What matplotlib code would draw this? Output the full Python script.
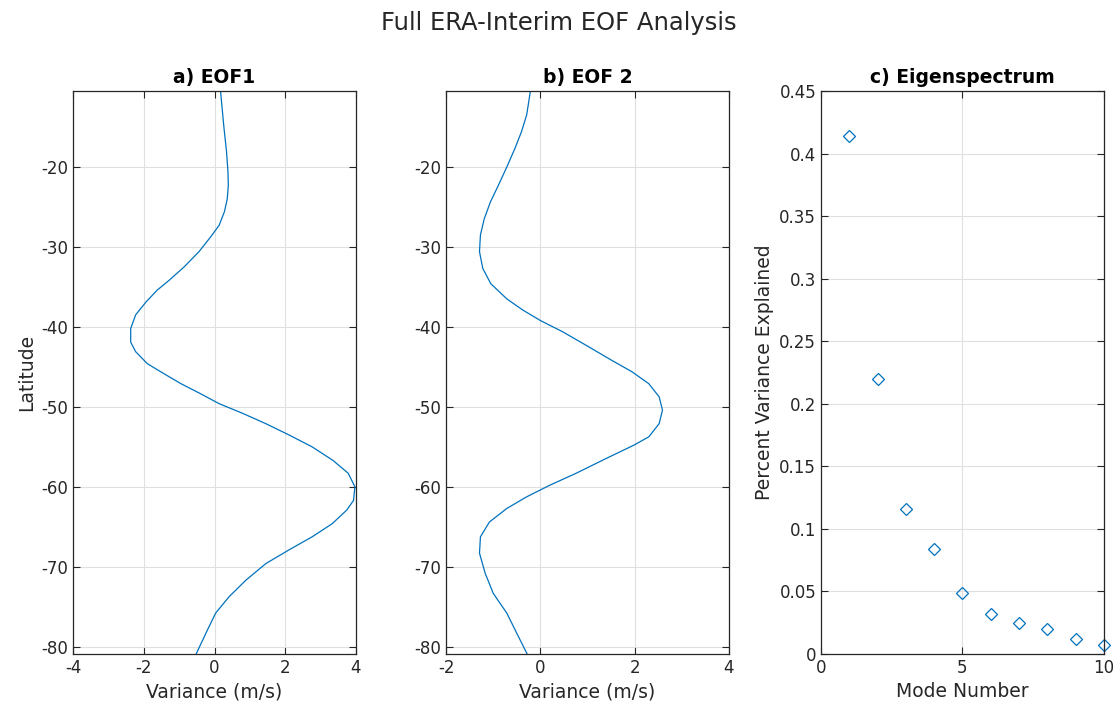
import numpy as np
import matplotlib.pyplot as plt

# EOF 1 profile (latitude, value)
eof1_lat = [-10.5, -14.8, -18.1, -20.6, -22.3, -24.0, -25.6, -27.3, -28.75, -30.6,
            -32.5, -34.2, -35.4, -36.9, -38.5, -40.2, -41.9, -43.1, -44.6, -45.8,
            -47.1, -48.3, -49.6, -50.8, -52.1, -53.5, -55.0, -56.7, -58.3, -60.0,
            -61.7, -62.9, -64.6, -66.25, -67.9, -69.6, -71.7, -73.75, -75.8, -77.9,
            -80.9]
eof1_val = [0.17, 0.26, 0.34, 0.38, 0.39, 0.36, 0.28, 0.13, -0.11, -0.44,
            -0.86, -1.29, -1.62, -1.94, -2.23, -2.37, -2.37, -2.23, -1.90, -1.45,
            -0.95, -0.42, 0.13, 0.79, 1.45, 2.10, 2.76, 3.35, 3.78, 3.97,
            3.93, 3.74, 3.33, 2.76, 2.10, 1.45, 0.88, 0.41, 0.03, -0.20,
            -0.52]

# EOF 2 profile
eof2_lat = [-10.5, -13.5, -15.6, -17.7, -20.0, -22.3, -24.4, -26.5, -28.5, -30.6,
            -32.7, -34.6, -36.5, -37.9, -39.2, -40.6, -42.3, -44.2, -45.6, -47.1,
            -48.75, -50.4, -52.1, -53.75, -54.8, -56.5, -58.3, -59.8, -61.25, -62.7,
            -64.4, -66.25, -68.3, -70.8, -73.3, -75.8, -78.3, -80.9]
eof2_val = [-0.21, -0.29, -0.40, -0.54, -0.71, -0.89, -1.06, -1.19, -1.27, -1.29,
            -1.22, -1.05, -0.71, -0.37, 0.00, 0.47, 0.97, 1.52, 1.94, 2.30,
            2.52, 2.59, 2.52, 2.30, 1.98, 1.38, 0.76, 0.20, -0.29, -0.71,
            -1.08, -1.27, -1.29, -1.17, -1.00, -0.71, -0.50, -0.28]

# Eigenspectrum
modes = [1, 2, 3, 4, 5, 6, 7, 8, 9, 10]
pct_var = [0.414, 0.220, 0.116, 0.084, 0.049, 0.032, 0.025, 0.020, 0.012, 0.007]

blue = '#0072BD'
dark = '#262626'

plt.rcParams['font.family'] = 'DejaVu Sans'
plt.rcParams['axes.unicode_minus'] = False


def matlab_style(ax):
    ax.grid(True, color='#e0e0e0', linewidth=0.8)
    ax.set_axisbelow(True)
    ax.tick_params(direction='in', top=True, right=True, colors=dark,
                   labelsize=12, length=5, width=0.8)
    for s in ax.spines.values():
        s.set_color(dark)
        s.set_linewidth(0.9)


fig = plt.figure(figsize=(11.17, 7.09), dpi=100)
ax1 = fig.add_axes([0.0654, 0.0776, 0.2533, 0.7941])
ax2 = fig.add_axes([0.3993, 0.0776, 0.2533, 0.7941])
ax3 = fig.add_axes([0.7350, 0.0776, 0.2533, 0.7941])

lat_ticks = [-80, -70, -60, -50, -40, -30, -20]

ax1.plot(eof1_val, eof1_lat, color=blue, linewidth=0.9)
ax1.set_xlim(-4, 4)
ax1.set_ylim(-80.9, -10.5)
ax1.set_xticks([-4, -2, 0, 2, 4])
ax1.set_yticks(lat_ticks)
ax1.set_title('a) EOF1', fontweight='bold', fontsize=13.5, color='black')
ax1.set_xlabel('Variance (m/s)', fontsize=13.5, color=dark)
ax1.set_ylabel('Latitude', fontsize=13.5, color=dark)
matlab_style(ax1)

ax2.plot(eof2_val, eof2_lat, color=blue, linewidth=0.9)
ax2.set_xlim(-2, 4)
ax2.set_ylim(-80.9, -10.5)
ax2.set_xticks([-2, 0, 2, 4])
ax2.set_yticks(lat_ticks)
ax2.set_title('b) EOF 2', fontweight='bold', fontsize=13.5, color='black')
ax2.set_xlabel('Variance (m/s)', fontsize=13.5, color=dark)
matlab_style(ax2)

ax3.plot(modes, pct_var, linestyle='none', marker='D', markersize=6.5,
         markerfacecolor='none', markeredgecolor=blue, markeredgewidth=0.9,
         clip_on=False)
ax3.set_xlim(0, 10)
ax3.set_ylim(0, 0.45)
ax3.set_xticks([0, 5, 10])
ax3.set_yticks(np.arange(0, 0.451, 0.05))
ax3.set_yticklabels(['0', '0.05', '0.1', '0.15', '0.2', '0.25', '0.3', '0.35', '0.4', '0.45'])
ax3.set_title('c) Eigenspectrum', fontweight='bold', fontsize=13.5, color='black')
ax3.set_xlabel('Mode Number', fontsize=13.5, color=dark)
ax3.set_ylabel('Percent Variance Explained', fontsize=13.5, color=dark)
matlab_style(ax3)

fig.suptitle('Full ERA-Interim EOF Analysis', fontsize=17.5, y=0.985, color=dark)

fig.savefig('out.png', dpi=100)
